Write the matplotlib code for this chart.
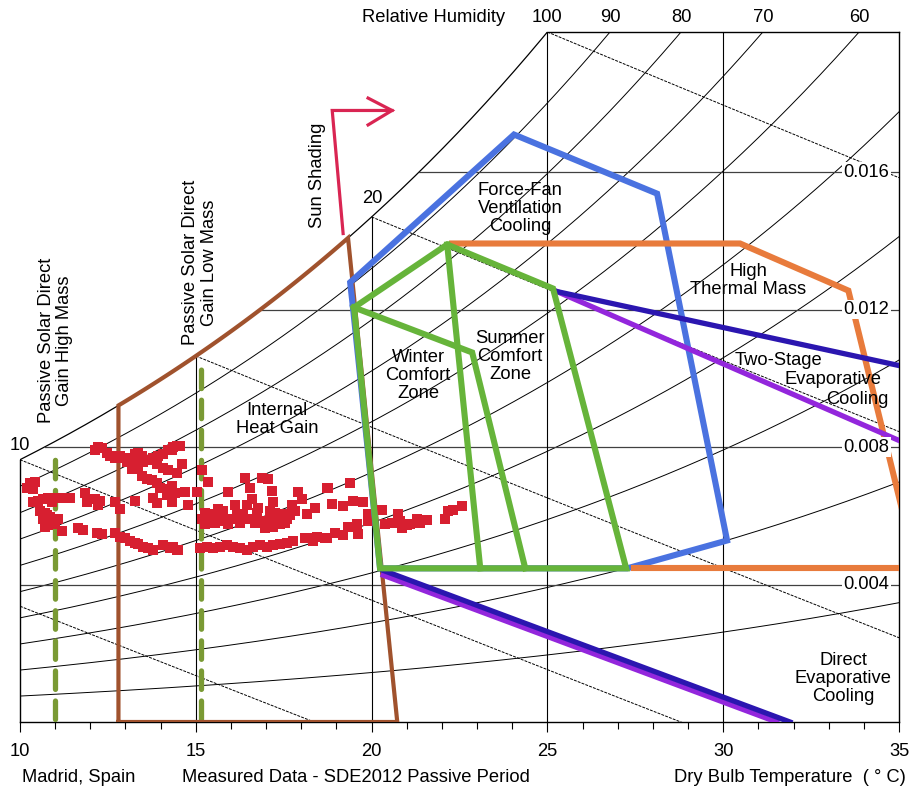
import numpy as np
import matplotlib
matplotlib.use('Agg')
import matplotlib.pyplot as plt

plt.rcParams['font.family'] = ['Liberation Sans', 'DejaVu Sans']
FS = 13.2

# ---------------- data ----------------
rh_levels = [0.1, 0.2, 0.3, 0.4, 0.5, 0.6, 0.7, 0.8, 0.9]
rh_top_labels = [100, 90, 80, 70, 60]
wetbulb_levels = [5, 10, 15, 20, 25]
w_grid_levels = [0.004, 0.008, 0.012, 0.016]
t_grid_levels = [15, 20, 25, 30]

# zone outlines (dry bulb degC, humidity ratio kg/kg)
brown_T_left, brown_T_peak, brown_T_right = 12.8, 19.33, 20.73
olive_T = [11.0, 15.15]
olive_W_top = [0.0079, 0.0105]
olive_W_bot = [0.0001, 0.0001]
blue_T = [19.47, 19.39, 24.05, 28.12, 30.11, 27.27, 20.24, 19.47]
blue_W = [0.01206, 0.01279, 0.01709, 0.01537, 0.00528, 0.00447, 0.00447, 0.01206]
orange_T = [22.29, 30.48, 33.56, 35.25]
orange_W = [0.01392, 0.01392, 0.01255, 0.0055]
orange_bot_T = [27.45, 35.5]
orange_bot_W = [0.00447, 0.00447]
green_outer_T = [19.50, 22.15, 25.16, 27.24, 20.24, 19.50]
green_outer_W = [0.01206, 0.01389, 0.01261, 0.00447, 0.00447, 0.01206]
green_winter_T = [19.50, 22.86, 24.37]
green_winter_W = [0.01206, 0.01075, 0.00447]
green_summer_T = [22.15, 23.09]
green_summer_W = [0.01389, 0.00447]
navy_top_T = [25.28, 35.0]
navy_top_W = [0.01252, 0.01037]
purple_top_T = [25.28, 35.0]
purple_top_W = [0.01252, 0.00819]
navy_bot_T = [20.33, 31.90]
navy_bot_W = [0.00441, 0.0]
purple_bot_T = [20.33, 31.52]
purple_bot_W = [0.00427, 0.0]
arrow_T = [19.19, 18.88, 20.58]
arrow_W = [0.01421, 0.01779, 0.01779]
arrow_head_T = [19.90, 20.58, 19.90]
arrow_head_W = [0.01815, 0.01779, 0.01737]

# measured hourly data (dry bulb degC, humidity ratio g/kg)
meas_T = [12.22, 12.13, 12.33, 12.48, 12.56, 12.70, 12.84, 12.93, 13.04, 13.13, 13.27, 13.36, 13.47, 13.33,
          13.21, 13.19, 13.36, 13.50, 13.64, 13.78, 13.93, 14.07, 14.21, 14.35, 14.47, 13.90, 14.07, 14.21,
          13.47, 13.61, 13.76, 13.90, 13.98, 14.18, 14.32, 14.18, 14.47,
          10.28, 10.20, 10.43, 10.37, 10.37, 10.51, 10.65, 10.80, 10.91, 10.94, 11.14, 11.42, 10.57, 10.71,
          10.77, 10.65, 10.85, 10.94, 11.00, 10.80, 11.08, 10.71, 11.85, 11.91, 12.13, 12.28, 12.22, 12.70,
          12.84, 13.27, 13.78, 13.90, 14.32, 14.41,
          11.19, 11.65, 11.79, 12.19, 12.33, 12.70, 12.84, 12.99, 13.13, 13.27, 13.36, 13.50, 13.64, 13.78,
          14.07, 14.27, 14.47,
          14.32, 14.55, 14.61, 14.69, 15.04, 14.78, 15.18, 15.35,
          15.18, 15.26, 15.41, 15.55, 15.69, 15.83, 15.92, 16.06, 16.17, 16.26, 15.63, 15.92, 16.12, 16.40,
          16.54, 16.46, 16.60, 16.74, 16.88, 17.06, 16.91, 16.97, 17.11, 17.17, 17.20, 17.25, 17.31, 17.40,
          17.48, 17.60, 17.68, 17.82, 17.91, 18.02, 18.17, 18.39, 18.73, 17.20, 17.40, 17.11, 16.77,
          15.26, 15.49, 15.78, 16.35, 16.54, 16.69, 17.54, 17.74,
          14.35, 14.50, 15.12, 15.32, 15.49, 15.69, 15.89, 16.06, 16.26, 16.46, 16.63, 16.83, 17.03, 17.20,
          17.40, 17.60, 17.77, 18.11, 18.34, 18.68, 18.17, 18.45,
          18.76, 19.39, 18.88, 19.19, 19.47, 19.76, 19.90, 19.90, 20.30, 20.38, 20.58, 20.75, 20.81, 20.87,
          21.01, 21.10, 21.29, 21.38, 21.58, 22.09, 22.18, 22.32, 22.57, 18.73, 18.96, 19.19, 19.33, 19.59,
          19.62]
meas_W = [7.99, 7.90, 7.96, 7.84, 7.75, 7.69, 7.75, 7.67, 7.55, 7.69, 7.81, 7.84, 7.75, 7.61,
          7.52, 7.37, 7.40, 7.55, 7.61, 7.67, 7.75, 7.81, 7.90, 7.99, 8.04, 7.52, 7.40, 7.32,
          7.17, 7.08, 7.03, 6.94, 6.82, 6.79, 6.88, 6.59, 7.23,
          6.94, 6.82, 6.97, 6.79, 6.39, 6.44, 6.50, 6.53, 6.39, 6.53, 6.53, 6.53, 6.15, 6.09,
          6.01, 5.92, 5.95, 5.86, 5.77, 5.72, 5.92, 5.66, 6.65, 6.39, 6.50, 6.44, 6.30, 6.39,
          6.21, 6.44, 6.53, 6.36, 6.39, 6.65,
          5.57, 5.63, 5.60, 5.51, 5.48, 5.51, 5.37, 5.34, 5.28, 5.22, 5.19, 5.08, 5.05, 4.99,
          5.14, 5.05, 4.99,
          7.90, 8.04, 7.52, 6.68, 6.68, 6.30, 7.32, 6.97,
          5.92, 5.77, 5.86, 5.80, 5.95, 5.86, 5.77, 5.92, 6.01, 5.80, 6.21, 6.68, 6.30, 7.11,
          6.82, 6.30, 6.50, 6.09, 7.11, 7.08, 5.86, 5.63, 5.92, 6.73, 6.39, 6.09, 5.86, 5.95,
          6.06, 5.92, 6.01, 6.15, 6.68, 6.50, 6.06, 6.24, 6.82, 5.66, 5.77, 6.15, 6.24,
          6.09, 6.06, 6.15, 6.06, 5.92, 5.80, 5.80, 6.30,
          5.08, 4.99, 5.05, 5.08, 5.05, 5.08, 5.14, 5.08, 5.05, 4.99, 5.08, 5.14, 5.08, 5.14,
          5.19, 5.22, 5.28, 5.34, 5.28, 5.34, 5.34, 5.37,
          6.82, 6.94, 6.33, 6.27, 6.44, 6.39, 6.06, 5.86, 6.18, 5.77, 5.80, 6.06, 5.86, 5.63,
          5.72, 5.77, 5.92, 5.80, 5.89, 5.92, 6.15, 6.18, 6.27, 5.34, 5.51, 5.43, 5.66, 5.77,
          5.48]

# ---------------- psychrometrics ----------------
P = 101.325


def psat(T):
    return 0.61078 * np.exp(17.27 * T / (T + 237.3))


def w_rh(T, rh):
    p = rh * psat(T)
    return 0.622 * p / (P - p)


def w_wb(T, twb):
    wsw = w_rh(twb, 1.0)
    return ((2501 - 2.326 * twb) * wsw - 1.006 * (T - twb)) / (2501 + 1.86 * T - 4.186 * twb)


T_MIN, T_MAX = 10.0, 35.0
W_TOP = w_rh(25.0, 1.0)
Tfine = np.linspace(0, 45, 4000)
Wsat_fine = w_rh(Tfine, 1.0)

# ---------------- figure ----------------
fig = plt.figure(figsize=(9.1, 7.93), dpi=100)
ax = fig.add_axes([20 / 910, 71 / 793, 879 / 910, 690 / 793])
ax.set_xlim(T_MIN, T_MAX)
ax.set_ylim(0, W_TOP)

LINE = dict(color='black', lw=0.7, zorder=1)
# saturation curve
Ts = np.linspace(10, 25, 300)
ax.plot(Ts, w_rh(Ts, 1.0), color='black', lw=0.9, zorder=1)
# RH curves
Tr = np.linspace(10, 35, 400)
for rh in rh_levels:
    ax.plot(Tr, w_rh(Tr, rh), **LINE)
# wet bulb lines
for twb in wetbulb_levels:
    Tw = np.linspace(max(twb, T_MIN), T_MAX, 200)
    ax.plot(Tw, w_wb(Tw, twb), color='black', lw=0.7, ls=(0, (3, 1.2)), zorder=1)
# constant humidity ratio lines
for w in w_grid_levels:
    tdew = np.interp(w, Wsat_fine, Tfine)
    ax.plot([tdew, T_MAX], [w, w], color='#404040', lw=0.9, zorder=1)
# constant dry bulb lines
for t in t_grid_levels:
    ax.plot([t, t], [0, min(w_rh(t, 1.0), W_TOP)], color='black', lw=0.8, zorder=1)

# spines / frame
for s in ax.spines.values():
    s.set_linewidth(1.0)
    s.set_color('black')
ax.spines['left'].set_bounds(0, w_rh(10, 1.0))
ax.spines['top'].set_bounds(25, 35)
ax.set_xticks(range(10, 36, 5))
ax.set_xticks(range(10, 36), minor=True)
ax.set_yticks([])
ax.tick_params(axis='x', which='major', direction='out', length=7, width=0.8, pad=8, labelsize=FS)
ax.tick_params(axis='x', which='minor', direction='out', length=5, width=0.8)

# right humidity ratio labels
for w in w_grid_levels:
    ax.text(34.72, w, f'{w:.3f}', ha='right', va='center', fontsize=FS, zorder=13,
            bbox=dict(facecolor='white', edgecolor='none', pad=1.0))

# top RH labels
for rh in rh_top_labels:
    if rh == 100:
        tx = 25.0
    else:
        Tg = np.linspace(20, 40, 4000)
        tx = np.interp(W_TOP, w_rh(Tg, rh / 100), Tg)
    ax.text(tx, W_TOP + 0.00041, str(rh), ha='center', va='center', fontsize=FS, clip_on=False)
fig.text(505 / 910, 1 - 18 / 793, 'Relative Humidity', ha='right', va='center', fontsize=FS)

# wet-bulb labels
ax.text(10.0, 0.00804, '10', ha='center', va='center', fontsize=FS, clip_on=False)
ax.text(20.02, 0.01523, '20', ha='center', va='center', fontsize=FS, clip_on=False)

# ---------------- zones ----------------
ZW = 4.4
# brown
Tb = np.linspace(brown_T_left, brown_T_peak, 100)
bT = np.concatenate([[brown_T_left], Tb, [brown_T_right, brown_T_left]])
bW = np.concatenate([[0.0], w_rh(Tb, 1.0), [0.0, 0.0]])
ax.plot(bT, bW, color='#A0522D', lw=3.0, zorder=4, solid_joinstyle='miter')

# olive dashed
for t, wt, wb in zip(olive_T, olive_W_top, olive_W_bot):
    ax.plot([t, t], [wb, wt], color='#7A9A34', lw=3.8, ls=(0, (3.5, 2.2)),
            dash_capstyle='round', zorder=3)

# red measured data
ax.scatter(meas_T, np.array(meas_W) / 1000.0, marker='s', s=48, color='#D71F30',
           linewidths=0, zorder=5)

# blue
ax.plot(blue_T, blue_W, color='#4A72E0', lw=ZW, zorder=6, solid_joinstyle='miter')
# orange
ax.plot(orange_T, orange_W, color='#E87B3C', lw=ZW, zorder=7, solid_joinstyle='miter')
ax.plot(orange_bot_T, orange_bot_W, color='#E87B3C', lw=ZW, zorder=7)
# purple / navy
ax.plot(purple_top_T, purple_top_W, color='#9326DC', lw=3.8, zorder=8)
ax.plot(purple_bot_T, purple_bot_W, color='#9326DC', lw=3.8, zorder=8)
ax.plot(navy_top_T, navy_top_W, color='#2B16B0', lw=3.8, zorder=9)
ax.plot(navy_bot_T, navy_bot_W, color='#2B16B0', lw=3.8, zorder=9)
# green
ax.plot(green_outer_T, green_outer_W, color='#66B43A', lw=ZW, zorder=10, solid_joinstyle='miter')
ax.plot(green_winter_T, green_winter_W, color='#66B43A', lw=ZW, zorder=10, solid_joinstyle='miter')
ax.plot(green_summer_T, green_summer_W, color='#66B43A', lw=ZW, zorder=10)

# sun shading arrow
ax.plot(arrow_T, arrow_W, color='#D92552', lw=2.3, zorder=6, solid_joinstyle='miter', clip_on=False)
ax.plot(arrow_head_T, arrow_head_W, color='#D92552', lw=2.3, zorder=6, solid_joinstyle='miter',
        clip_on=False)

# ---------------- zone labels ----------------
TXT = dict(fontsize=FS, ha='center', va='center', linespacing=1.08, zorder=12)
ax.text(11.0, 0.0111, 'Passive Solar Direct\nGain High Mass', rotation=90, **TXT)
ax.text(15.12, 0.01337, 'Passive Solar Direct\nGain Low Mass', rotation=90, **TXT)
ax.text(18.45, 0.0159, 'Sun Shading', rotation=90, **TXT)
ax.text(17.31, 0.0088, 'Internal\nHeat Gain', **TXT)
ax.text(21.32, 0.01008, 'Winter\nComfort\nZone', **TXT)
ax.text(23.94, 0.01063, 'Summer\nComfort\nZone', **TXT)
ax.text(24.22, 0.01494, 'Force-Fan\nVentilation\nCooling', **TXT)
ax.text(30.71, 0.01284, 'High\nThermal Mass', **TXT)
ax.text(31.56, 0.01052, 'Two-Stage', **TXT)
ax.text(33.13, 0.00996, 'Evaporative', **TXT)
ax.text(33.81, 0.00938, 'Cooling', **TXT)
ax.text(33.41, 0.00127, 'Direct\nEvaporative\nCooling', **TXT)

# bottom captions
yb = 1 - 777 / 793
fig.text(22 / 910, yb, 'Madrid, Spain', ha='left', va='center', fontsize=FS)
fig.text(182 / 910, yb, 'Measured Data - SDE2012 Passive Period', ha='left', va='center', fontsize=FS)
fig.text(906 / 910, yb, 'Dry Bulb Temperature  ( \u00b0 C)', ha='right', va='center', fontsize=FS)

fig.savefig('out.png', dpi=100, facecolor='white')
